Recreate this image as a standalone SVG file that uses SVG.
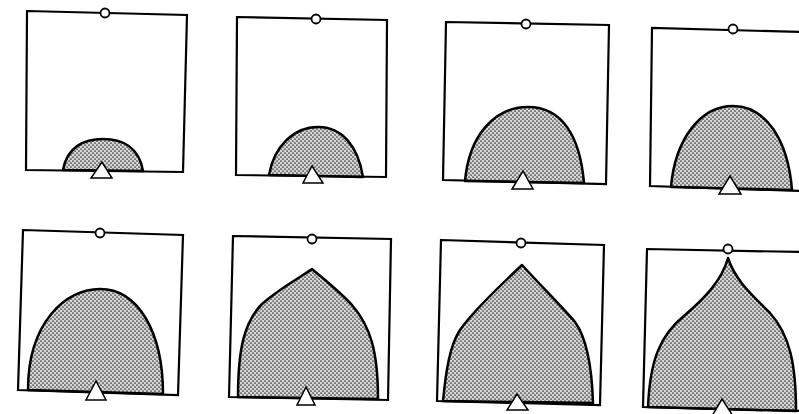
<svg xmlns="http://www.w3.org/2000/svg" width="799" height="414" viewBox="0 0 799 414">
<defs>
<pattern id="stip" width="4" height="4" patternUnits="userSpaceOnUse">
<rect width="4" height="4" fill="#d6d6d6"/>
<circle cx="1" cy="1" r="0.85" fill="#333"/>
<circle cx="3" cy="3" r="0.85" fill="#333"/>
</pattern>
</defs>
<style>
.box{fill:none;stroke:#000;stroke-width:2.2;stroke-linejoin:miter}
.shape{fill:url(#stip);stroke:#000;stroke-width:2.5;stroke-linejoin:round}
.pivot{fill:#fff;stroke:#000;stroke-width:1.8}
.tri{fill:#fff;stroke:#000;stroke-width:1.5;stroke-linejoin:miter}
</style>
<rect width="799" height="414" fill="#fff"/>

<g id="panel1">
<path class="shape" d="M63,170 C67,147 84,139 103,139 C122,139 139,147 143,171 Z"/>
<polygon class="box" points="27,11 187,15 183,172 26,170"/>
<circle class="pivot" cx="105" cy="13" r="4.5"/>
<polygon class="tri" points="102,162 91,178 112,178"/>
</g>

<g id="panel2">
<path class="shape" d="M269,175 C274,146 294,127 318,127 C342,127 358,146 363,177 Z"/>
<polygon class="box" points="237,17 387,20 386,177 236,175"/>
<circle class="pivot" cx="316" cy="19" r="4.5"/>
<polygon class="tri" points="312,166 303,183 323,183"/>
</g>

<g id="panel3">
<path class="shape" d="M465,181 C469,136 494,107 528,107 C562,107 580,136 584,183 Z"/>
<polygon class="box" points="446,22 609,25 606,184 443,180"/>
<circle class="pivot" cx="526" cy="24" r="4.5"/>
<polygon class="tri" points="523,171 512,189 533,189"/>
</g>

<g id="panel4">
<path class="shape" d="M671,187 C675,140 700,106 733,106 C766,106 788,140 792,190 Z"/>
<polyline class="box" points="801,32 652,28 650,186 801,191"/>
<circle class="pivot" cx="733" cy="29" r="4.5"/>
<polygon class="tri" points="730,176 719,194 741,194"/>
</g>

<g id="panel5">
<path class="shape" d="M28,390 C28,322 66,289 100,289 C138,289 163,332 163,394 Z"/>
<polygon class="box" points="23,230 183,235 178,395 18,390"/>
<circle class="pivot" cx="100" cy="233" r="4.5"/>
<polygon class="tri" points="96,381 86,400 106,400"/>
</g>

<g id="panel6">
<path class="shape" d="M238,397 C238,350 244,322 262,304 C280,288 298,279 312,269 C326,281 340,292 352,305 C370,326 378,350 378,399 Z"/>
<polygon class="box" points="233,236 391,239 388,400 229,397"/>
<circle class="pivot" cx="312" cy="239" r="4.5"/>
<polygon class="tri" points="306,387 297,405 315,405"/>
</g>

<g id="panel7">
<path class="shape" d="M443,401 C446,370 450,345 460,330 C468,318 490,295 522,265 C545,290 565,310 575,322 C588,340 592,370 593,403 Z"/>
<polygon class="box" points="441,240 604,245 600,405 437,401"/>
<circle class="pivot" cx="521" cy="243" r="4.5"/>
<polygon class="tri" points="517,394 507,410 528,410"/>
</g>

<g id="panel8">
<path class="shape" d="M648,407 C650,360 660,335 685,315 C705,298 722,280 728,258 C735,280 752,295 770,313 C790,335 796,365 796,411 Z"/>
<polyline class="box" points="801,252 647,249 643,407 801,411"/>
<circle class="pivot" cx="728" cy="249" r="4.5"/>
<polygon class="tri" points="722,399 712,416 733,416"/>
</g>
</svg>
